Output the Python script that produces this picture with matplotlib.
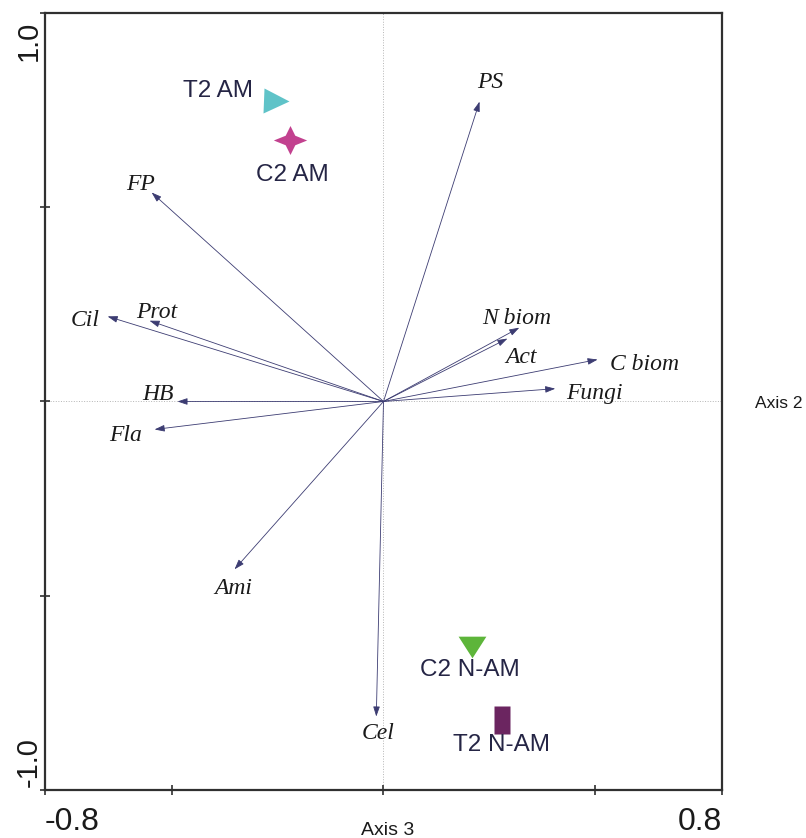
import numpy as np
import matplotlib
matplotlib.use("Agg")
import matplotlib.pyplot as plt
from matplotlib.transforms import ScaledTranslation

# environmental / biological variables (arrow tips on axes 3 x 2)
var_names = ["PS", "FP", "Cil", "Prot", "HB", "Fla", "Ami", "Cel",
             "N biom", "Act", "C biom", "Fungi"]
var_x = [0.227, -0.548, -0.652, -0.553, -0.487, -0.541, -0.352, -0.017,
         0.321, 0.293, 0.506, 0.406]
var_y = [0.772, 0.538, 0.219, 0.208, 0.000, -0.072, -0.432, -0.811,
         0.190, 0.162, 0.108, 0.033]

# treatment samples
sample_names = ["T2 AM", "C2 AM", "C2 N-AM", "T2 N-AM"]
sample_x = [-0.253, -0.222, 0.210, 0.279]
sample_y = [0.773, 0.672, -0.631, -0.819]

# label offsets (points) relative to arrow tips
var_offsets = {
    "PS": (8, 14), "FP": (-8, 6), "Cil": (-16, -3), "Prot": (5, 6),
    "HB": (-14, 5), "Fla": (-21, -4), "Ami": (-1, -14), "Cel": (1, -12),
    "N biom": (-2, 6.5), "Act": (10, -14), "C biom": (34, -3.5),
    "Fungi": (28, -3.5),
}

star = [(0, 1), (0.33, 0.33), (1.15, 0), (0.33, -0.33), (0, -1),
        (-0.33, -0.33), (-1.15, 0), (-0.33, 0.33), (0, 1)]
down_tri = [(-1, 0.78), (1, 0.78), (0, -0.78), (-1, 0.78)]
rect = [(-0.3, -0.5), (0.3, -0.5), (0.3, 0.5), (-0.3, 0.5), (-0.3, -0.5)]

sample_style = {
    "T2 AM": dict(marker=">", ms=18, color="#5fc3c8",
                  off=(-17, 7.5), ha="right"),
    "C2 AM": dict(marker=star, ms=24, color="#c2418f",
                  off=(2, -25), ha="center"),
    "C2 N-AM": dict(marker=down_tri, ms=20, color="#5db53a",
                    off=(-2, -17), ha="center"),
    "T2 N-AM": dict(marker=rect, ms=20, color="#6b2560",
                    off=(0, -18), ha="center"),
}

fig = plt.figure(figsize=(8.06, 8.38), dpi=100)
ax = fig.add_axes([0.0558, 0.0573, 0.84, 0.9272])
ax.set_xlim(-0.8, 0.8)
ax.set_ylim(-1.0, 1.0)

ax.axhline(0, color="#b5b5b5", lw=0.7, ls=":", zorder=0)
ax.axvline(0, color="#b5b5b5", lw=0.7, ls=":", zorder=0)

for name, x, y in zip(var_names, var_x, var_y):
    ax.annotate("", xy=(x, y), xytext=(0, 0),
                arrowprops=dict(arrowstyle="-|>,head_length=0.6,head_width=0.2",
                                color="#3c3c72", lw=0.6, shrinkA=0, shrinkB=0,
                                mutation_scale=10))
    ax.annotate(name, xy=(x, y), xytext=var_offsets[name],
                textcoords="offset points", ha="center", va="center",
                fontsize=17, fontstyle="italic", family="Liberation Serif",
                color="#1a1a1a")

for name, x, y in zip(sample_names, sample_x, sample_y):
    st = sample_style[name]
    ax.plot([x], [y], linestyle="none", marker=st["marker"], ms=st["ms"],
            color=st["color"], mec="none")
    ax.annotate(name, xy=(x, y), xytext=st["off"], textcoords="offset points",
                ha=st["ha"], va="center", fontsize=17.5,
                family="Liberation Sans", color="#252545")

for sp in ax.spines.values():
    sp.set_linewidth(1.6)
    sp.set_color("#303030")

ax.set_xticks([-0.8, -0.5, 0, 0.5, 0.8], labels=["-0.8", "", "", "", "0.8"])
ax.set_yticks([-1.0, -0.5, 0, 0.5, 1.0], labels=[])
ax.tick_params(direction="inout", length=7, width=1.2, color="#303030")
ax.tick_params(axis="x", labelsize=23, pad=9)
xl = ax.get_xticklabels()
xl[0].set_ha("left")
xl[-1].set_ha("right")
for lab in xl:
    lab.set_family("Liberation Sans")
    lab.set_color("#1a1a1a")

# rotated end labels of the vertical axis
ylo, yhi = ax.get_ylim()
top_tr = ax.get_yaxis_transform() + ScaledTranslation(-0.08, -0.08, fig.dpi_scale_trans)
bot_tr = ax.get_yaxis_transform() + ScaledTranslation(-0.08, 0.03, fig.dpi_scale_trans)
ax.text(0, yhi, f"{yhi:.1f}", transform=top_tr, rotation=90,
        rotation_mode="anchor", ha="right", va="baseline", fontsize=21,
        family="Liberation Sans", color="#1a1a1a", clip_on=False)
ax.text(0, ylo, f"{ylo:.1f}", transform=bot_tr, rotation=90,
        rotation_mode="anchor", ha="left", va="baseline", fontsize=21,
        family="Liberation Sans", color="#1a1a1a", clip_on=False)

fig.text(0.481, 0.004, "Axis 3", ha="center", va="baseline", fontsize=14,
         family="Liberation Sans", color="#1a1a1a")
fig.text(0.937, 0.513, "Axis 2", ha="left", va="baseline", fontsize=12.5,
         family="Liberation Sans", color="#1a1a1a")

fig.savefig("out.png", dpi=100)
